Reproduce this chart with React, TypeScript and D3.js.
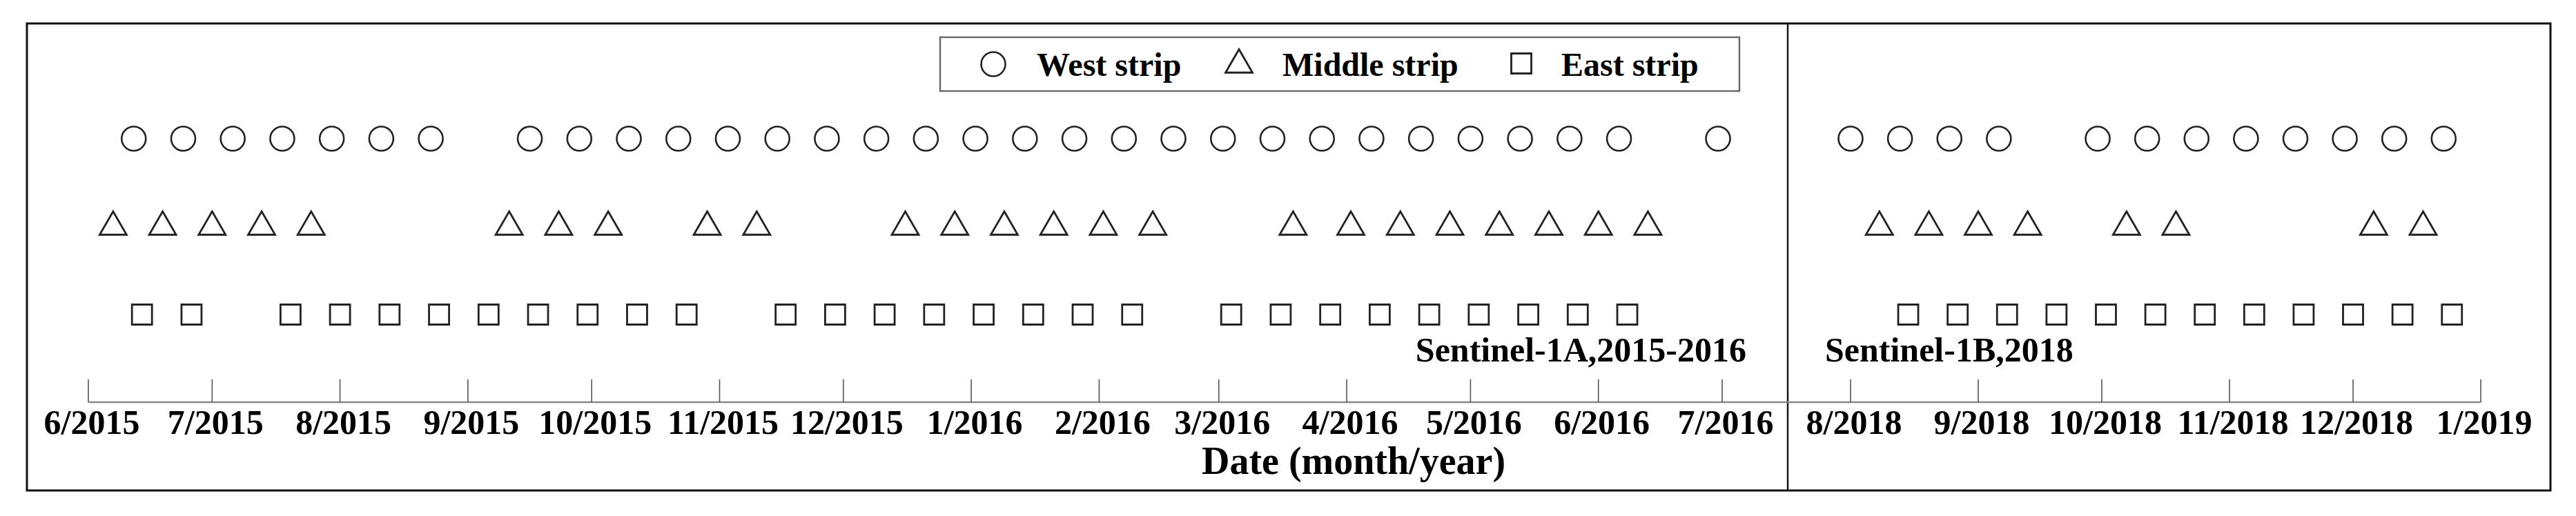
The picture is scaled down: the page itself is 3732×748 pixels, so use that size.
import React from 'react'
import * as d3 from 'd3'

// acquisition dates
const westA = ['2015-06-12', '2015-06-24', '2015-07-06', '2015-07-18', '2015-07-30', '2015-08-11', '2015-08-23',
  '2015-09-16', '2015-09-28', '2015-10-10', '2015-10-22', '2015-11-03', '2015-11-15', '2015-11-27',
  '2015-12-09', '2015-12-21', '2016-01-02', '2016-01-14', '2016-01-26', '2016-02-07', '2016-02-19', '2016-03-02', '2016-03-14',
  '2016-03-26', '2016-04-07', '2016-04-19', '2016-05-01', '2016-05-13', '2016-05-25', '2016-06-06', '2016-06-30']
const middleA = ['2015-06-07', '2015-06-19', '2015-07-01', '2015-07-13', '2015-07-25',
  '2015-09-11', '2015-09-23', '2015-10-05', '2015-10-29', '2015-11-10',
  '2015-12-16', '2015-12-28', '2016-01-09', '2016-01-21', '2016-02-02', '2016-02-14',
  '2016-03-19', '2016-04-02', '2016-04-14', '2016-04-26', '2016-05-08', '2016-05-20', '2016-06-01', '2016-06-13']
const eastA = ['2015-06-14', '2015-06-26', '2015-07-20', '2015-08-01', '2015-08-13', '2015-08-25', '2015-09-06',
  '2015-09-18', '2015-09-30', '2015-10-12', '2015-10-24', '2015-11-17', '2015-11-29', '2015-12-11',
  '2015-12-23', '2016-01-04', '2016-01-16', '2016-01-28', '2016-02-09', '2016-03-04', '2016-03-16',
  '2016-03-28', '2016-04-09', '2016-04-21', '2016-05-03', '2016-05-15', '2016-05-27', '2016-06-08']

const westB = ['2018-08-01', '2018-08-13', '2018-08-25', '2018-09-06', '2018-09-30', '2018-10-12',
  '2018-10-24', '2018-11-05', '2018-11-17', '2018-11-29', '2018-12-11', '2018-12-23']
const middleB = ['2018-08-08', '2018-08-20', '2018-09-01', '2018-09-13', '2018-10-07', '2018-10-19',
  '2018-12-06', '2018-12-18']
const eastB = ['2018-08-15', '2018-08-27', '2018-09-08', '2018-09-20', '2018-10-02', '2018-10-14',
  '2018-10-26', '2018-11-07', '2018-11-19', '2018-12-01', '2018-12-13', '2018-12-25']

const ticksA = ['6/2015', '7/2015', '8/2015', '9/2015', '10/2015', '11/2015', '12/2015',
  '1/2016', '2/2016', '3/2016', '4/2016', '5/2016', '6/2016', '7/2016']
const ticksB = ['8/2018', '9/2018', '10/2018', '11/2018', '12/2018', '1/2019']

const strips = ['West strip', 'Middle strip', 'East strip']

const parseDay = d3.timeParse('%Y-%m-%d')
const parseTick = d3.timeParse('%m/%Y')

const FONT = '"Liberation Serif", "Times New Roman", serif'
const W = 3732
const H = 748

export default function App() {
  const xA = d3.scaleTime()
    .domain([parseTick(ticksA[0]), parseTick(ticksA[ticksA.length - 1])])
    .range([128, 2495])
  const xB = d3.scaleTime()
    .domain([parseTick(ticksB[0]), parseTick(ticksB[ticksB.length - 1])])
    .range([2681, 3594])

  // one row per strip
  const y = d3.scalePoint().domain(strips).range([201, 456])
  const rowY = { 'West strip': 201, 'Middle strip': 329, 'East strip': 456 }

  const tri = d3.symbol(d3.symbolTriangle, 660)()
  const sq = d3.symbol(d3.symbolSquare, 29 * 29)()

  const marker = (kind, cx, cy, key) => {
    if (kind === 'West strip') {
      return <circle key={key} cx={cx} cy={cy} r={17.5} fill="none" stroke="#222" strokeWidth={2.6} />
    }
    let d = kind === 'Middle strip' ? tri : sq
    return <path key={key} d={d} transform={`translate(${cx},${cy})`} fill="none" stroke="#222" strokeWidth={2.8} />
  }

  const rows = [
    [westA, xA, 'West strip'], [middleA, xA, 'Middle strip'], [eastA, xA, 'East strip'],
    [westB, xB, 'West strip'], [middleB, xB, 'Middle strip'], [eastB, xB, 'East strip'],
  ]

  const axisY = 583
  const tickLen = 33

  const ticks = []
  for (let [labels, scale] of [[ticksA, xA], [ticksB, xB]]) {
    for (let t of labels) {
      let x = scale(parseTick(t))
      ticks.push(
        <g key={t} transform={`translate(${x},0)`}>
          <line y1={axisY - tickLen} y2={axisY} stroke="#555" strokeWidth={1.6} />
          <text x={5} y={629} textAnchor="middle" fontSize={50} fontWeight="bold" fontFamily={FONT}>{t}</text>
        </g>
      )
    }
  }

  const legendMarkX = [1439, 1795, 2204]
  const legendTextX = [1502, 1858, 2262]
  const legendMarkY = [93, 94, 92]

  return (
    <svg width={W} height={H} style={{ position: 'absolute', left: 0, top: 0, background: '#fff' }}>
      <rect x={0} y={0} width={W} height={H} fill="#fff" />
      {/* frame and panel divider */}
      <rect x={39} y={34} width={3656} height={677} fill="none" stroke="#111" strokeWidth={3} />
      <line x1={2590} x2={2590} y1={34} y2={711} stroke="#111" strokeWidth={2.4} />

      {/* legend */}
      <rect x={1362} y={54} width={1158} height={78} fill="none" stroke="#666" strokeWidth={2.4} />
      {strips.map((s, i) => (
        <g key={s}>
          {marker(s, legendMarkX[i], legendMarkY[i], 'lm' + i)}
          <text x={legendTextX[i]} y={110} fontSize={48} fontWeight="bold" fontFamily={FONT}>{s}</text>
        </g>
      ))}

      {/* markers */}
      {rows.map(([dates, scale, kind], ri) => (
        <g key={ri}>
          {dates.map((d, i) => marker(kind, scale(parseDay(d)), rowY[kind] ?? y(kind), ri + '-' + i))}
        </g>
      ))}

      {/* axis */}
      <line x1={xA.range()[0]} x2={xB.range()[1]} y1={axisY} y2={axisY} stroke="#888" strokeWidth={2.5} />
      {ticks}

      <text x={2530} y={524} textAnchor="end" fontSize={50} fontWeight="bold" fontFamily={FONT}>Sentinel-1A,2015-2016</text>
      <text x={2644} y={524} fontSize={50} fontWeight="bold" fontFamily={FONT}>Sentinel-1B,2018</text>
      <text x={1961} y={687} textAnchor="middle" fontSize={56} fontWeight="bold" fontFamily={FONT}>Date (month/year)</text>
    </svg>
  )
}
